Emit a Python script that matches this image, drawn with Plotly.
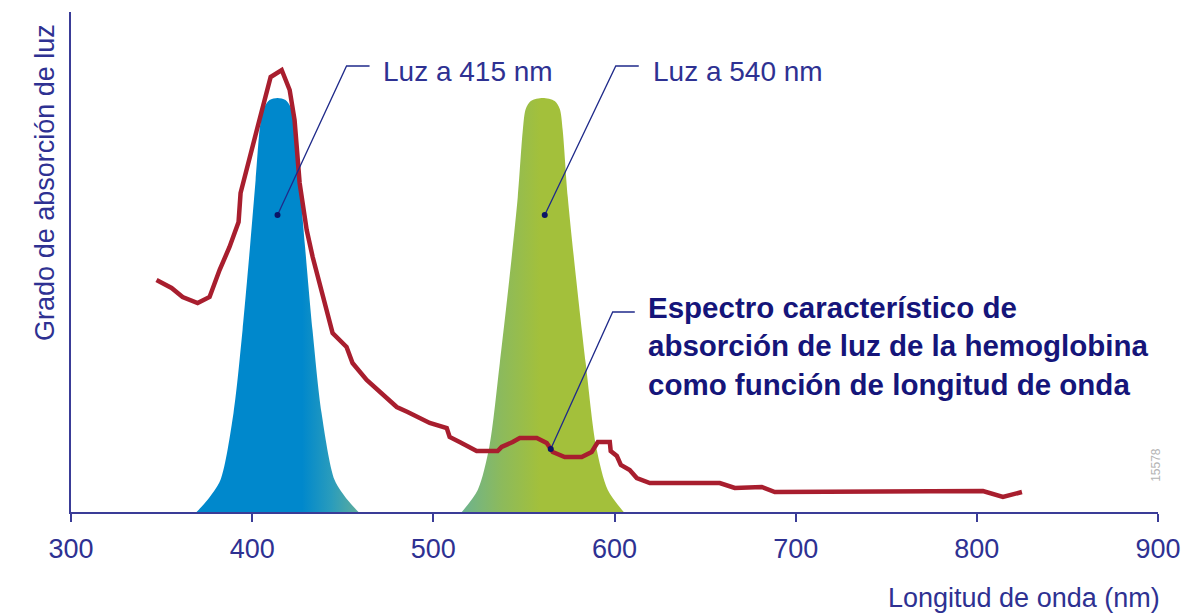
import plotly.graph_objects as go

# ---------------- data ----------------
# Hemoglobin absorption spectrum (wavelength nm, relative absorption 0-100)
hb_nm = [347.2, 355.5, 361.6, 369.9, 376.5, 382.0, 387.5, 392.5, 393.6, 397.5,
         403.0, 410.2, 416.3, 420.7, 423.4, 426.2, 430.1, 433.4, 441.1, 444.4,
         452.1, 455.4, 463.2, 479.8, 485.8, 498.0, 507.4, 509.0, 514.5, 523.9,
         535.5, 537.7, 543.8, 547.7, 557.1, 562.6, 565.9, 572.5, 581.9, 587.4,
         590.8, 597.4, 597.9, 601.3, 603.5, 608.4, 612.3, 619.5, 658.1, 666.4,
         681.3, 688.5, 803.4, 814.4, 824.9]
hb_abs = [46.4, 44.8, 43.0, 41.8, 43.0, 48.4, 53.0, 58.0, 63.8, 69.0,
          77.0, 87.0, 88.4, 84.4, 78.4, 65.8, 56.4, 51.0, 40.4, 35.8,
          33.0, 29.8, 26.4, 21.0, 20.0, 17.8, 16.8, 15.0, 14.0, 12.2,
          12.2, 13.0, 14.0, 14.8, 14.8, 13.8, 12.0, 11.0, 11.0, 12.0,
          14.0, 14.0, 12.2, 11.2, 9.4, 8.4, 6.8, 5.8, 5.8, 4.8,
          5.0, 4.0, 4.2, 3.0, 4.0]

# Light bands: centre wavelength, half-width (nm) at each height
blue_center = 414.0
blue_height = [0, 2.4, 6.4, 19.8, 36.4, 53.0, 66.4, 77.8, 81.0, 82.4, 82.8]
blue_halfw = [44.7, 38.7, 31.5, 24.3, 19.3, 15.2, 12.1, 9.4, 7.2, 4.4, 0]

green_center = 560.4
green_height = [0, 4.4, 13.0, 29.8, 46.4, 63.0, 76.4, 80.6, 82.2, 82.8]
green_halfw = [44.7, 35.9, 29.5, 23.7, 18.5, 13.8, 11.0, 9.4, 6.6, 0]

x_ticks = [300, 400, 500, 600, 700, 800, 900]

labels = ["Luz a 415 nm", "Luz a 540 nm"]
hb_lines = ["Espectro característico de",
            "absorción de luz de la hemoglobina",
            "como función de longitud de onda"]

# leader lines: dot point, elbow point, end point (nm, abs)
lead_415 = [(414.0, 59.4), (452.1, 89.2), (464.8, 89.2)]
lead_540 = [(561.5, 59.4), (600.7, 89.2), (613.4, 89.2)]
lead_hb = [(564.8, 12.6), (599.0, 40.0), (611.2, 40.0)]

TXT = "#2e3192"
BOLD = "#15157a"
AXIS = "#3a3c97"
LEAD = "#1f2a8a"
FONT = "Liberation Sans, Arial, Helvetica, sans-serif"


def band(center, heights, halfw):
    xs = [center - w for w in halfw] + [center + w for w in reversed(halfw[:-1])]
    ys = list(heights) + list(reversed(heights[:-1]))
    return xs, ys


fig = go.Figure()

bx, by = band(blue_center, blue_height, blue_halfw)
fig.add_trace(go.Scatter(
    x=bx, y=by, mode="lines", line=dict(width=0, shape="spline", smoothing=0.8),
    fill="toself",
    fillgradient=dict(type="horizontal", start=370, stop=460,
                      colorscale=[[0, "#0088cc"], [0.64, "#0088cc"],
                                  [0.82, "#2a9cbc"], [1, "#62ae9a"]]),
    hoverinfo="skip", showlegend=False))

gx, gy = band(green_center, green_height, green_halfw)
fig.add_trace(go.Scatter(
    x=gx, y=gy, mode="lines", line=dict(width=0, shape="spline", smoothing=0.8),
    fill="toself",
    fillgradient=dict(type="horizontal", start=516, stop=559,
                      colorscale=[[0, "#6db38e"], [0.5, "#8cba5c"], [1, "#a3c03b"]]),
    hoverinfo="skip", showlegend=False))

fig.add_trace(go.Scatter(
    x=hb_nm, y=hb_abs, mode="lines",
    line=dict(color="#a81e2e", width=4.5), hoverinfo="skip", showlegend=False))

for lead in (lead_415, lead_540, lead_hb):
    fig.add_trace(go.Scatter(
        x=[p[0] for p in lead], y=[p[1] for p in lead], mode="lines",
        line=dict(color=LEAD, width=1.3), hoverinfo="skip", showlegend=False))
    fig.add_trace(go.Scatter(
        x=[lead[0][0]], y=[lead[0][1]], mode="markers",
        marker=dict(color="#0b1466", size=6), hoverinfo="skip", showlegend=False))

ann = []
ann.append(dict(x=lead_415[2][0] + 6.5, y=88.2, xref="x", yref="y", text=labels[0],
                showarrow=False, xanchor="left", yanchor="middle",
                font=dict(size=28, color=TXT, family=FONT)))
ann.append(dict(x=lead_540[2][0] + 6.5, y=88.2, xref="x", yref="y", text=labels[1],
                showarrow=False, xanchor="left", yanchor="middle",
                font=dict(size=28, color=TXT, family=FONT)))
ann.append(dict(x=lead_hb[2][0] + 6.0, y=33.2, xref="x", yref="y",
                text="<br>".join("<b>" + s + "</b>" for s in hb_lines),
                showarrow=False, xanchor="left", yanchor="middle", align="left",
                font=dict(size=29.5, color=BOLD, family=FONT)))
ann.append(dict(x=-0.024, y=0.66, xref="paper", yref="paper",
                text="Grado de absorción de luz", textangle=-90, showarrow=False,
                xanchor="center", yanchor="middle",
                font=dict(size=27, color=TXT, family=FONT)))
ann.append(dict(x=1.0037, y=-0.172, xref="paper", yref="paper",
                text="Longitud de onda (nm)", showarrow=False,
                xanchor="right", yanchor="middle",
                font=dict(size=27, color=TXT, family=FONT)))
ann.append(dict(x=0.998, y=0.094, xref="paper", yref="paper",
                text="15578", textangle=-90, showarrow=False,
                xanchor="center", yanchor="middle",
                font=dict(size=12, color="#b4b4b4", family=FONT)))

fig.update_layout(
    width=1202, height=614,
    margin=dict(l=71, r=44, t=12, b=102),
    paper_bgcolor="white", plot_bgcolor="white",
    annotations=ann,
    xaxis=dict(range=[300, 900], tickvals=x_ticks, ticktext=[str(t) for t in x_ticks],
               showline=True, linecolor=AXIS, linewidth=1.5, ticks="outside",
               ticklen=8, tickwidth=1.5, tickcolor=AXIS, showgrid=False,
               zeroline=False, tickfont=dict(size=27, color=TXT, family=FONT),
               ticklabelstandoff=4),
    yaxis=dict(range=[0, 100], showline=True, linecolor=AXIS, linewidth=1.5,
               showticklabels=False, ticks="", showgrid=False, zeroline=False),
)

fig.write_html("out.html", config={"displayModeBar": False},
               post_script="document.body.style.margin='0';document.body.style.overflow='hidden';")
